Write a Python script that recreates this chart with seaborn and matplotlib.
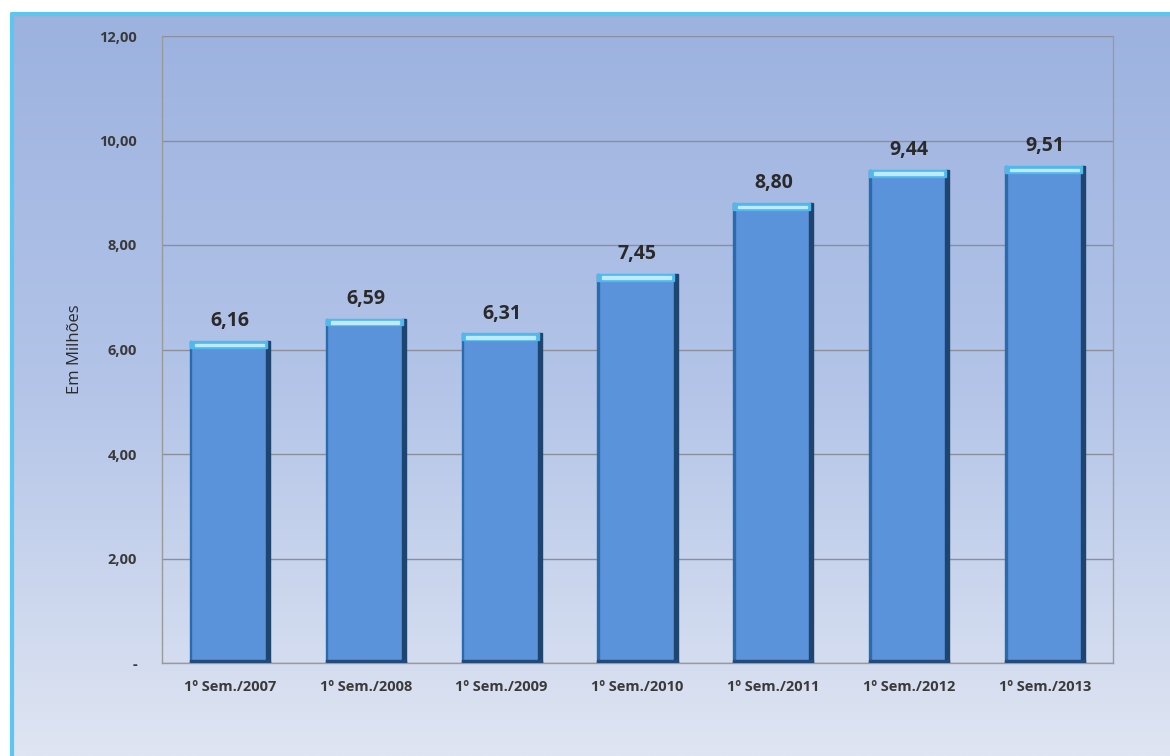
import numpy as np
import pandas as pd
import matplotlib
matplotlib.use('Agg')
import matplotlib.pyplot as plt
from matplotlib.patches import Rectangle
from matplotlib.colors import LinearSegmentedColormap
import seaborn as sns

# dados do gráfico
categorias = ['1º Sem./2007', '1º Sem./2008', '1º Sem./2009', '1º Sem./2010',
              '1º Sem./2011', '1º Sem./2012', '1º Sem./2013']
valores = [6.16, 6.59, 6.31, 7.45, 8.80, 9.44, 9.51]
yticks = [0, 2, 4, 6, 8, 10, 12]
ytick_labels = ['-', '2,00', '4,00', '6,00', '8,00', '10,00', '12,00']

df = pd.DataFrame({'periodo': categorias, 'valor': valores})

sns.set_style('white')
plt.rcParams['font.family'] = ['Open Sans', 'DejaVu Sans']

fig = plt.figure(figsize=(11.7, 7.56), dpi=100)

# fundo com degradê azul
bg = fig.add_axes([12 / 1170, 0, 1 - 12 / 1170, 1 - 14 / 756])
grad = np.linspace(0, 1, 256).reshape(-1, 1)
cmap_bg = LinearSegmentedColormap.from_list('bg', ['#9cb2df', '#b3c4e8', '#dfe5f2'])
bg.imshow(grad, aspect='auto', cmap=cmap_bg, extent=[0, 1, 0, 1], origin='upper')
bg.set_xlim(0, 1)
bg.set_ylim(0, 1)
bg.axis('off')
bg.plot([0, 0], [0, 1], color='#5cc6ef', lw=3, clip_on=False)
bg.plot([0, 1], [1, 1], color='#5cc6ef', lw=3, clip_on=False)

ax = fig.add_axes([162 / 1170, 1 - 663 / 756, (1113 - 162) / 1170, (663 - 36) / 756])
ax.patch.set_alpha(0)

sns.barplot(data=df, x='periodo', y='valor', color='#5b93db', width=0.59,
            saturation=1, edgecolor='none', ax=ax, zorder=3)

# efeito 3D nas barras
for p, v in zip(ax.patches, valores):
    x0, w = p.get_x(), p.get_width()
    ax.add_patch(Rectangle((x0 + w * 0.95, 0), w * 0.05, v, color='#1e4470', zorder=4))
    ax.add_patch(Rectangle((x0, 0), w * 0.02, v, color='#2b6bab', zorder=4))
    ax.add_patch(Rectangle((x0, 0), w, 0.05, color='#234a78', zorder=4))
    ax.add_patch(Rectangle((x0, v - 0.13), w * 0.96, 0.13, color='#4fb8ec', zorder=5))
    ax.add_patch(Rectangle((x0 + w * 0.06, v - 0.1), w * 0.86, 0.05, color='#bfeafc', zorder=6))
    ax.annotate(f'{v:.2f}'.replace('.', ','), (x0 + w / 2, v), xytext=(0, 7),
                textcoords='offset points', ha='center', va='bottom',
                fontsize=14, fontweight='bold', color='#2a2a2a')

ax.set_ylim(0, 12)
ax.set_xlim(-0.5, len(categorias) - 0.5)
ax.set_yticks(yticks)
ax.set_yticklabels(ytick_labels, fontsize=10.5, fontweight='bold', color='#3a3a3a')
ax.yaxis.grid(True, color='#8a8f99', lw=1, zorder=0)
ax.set_axisbelow(True)
ax.tick_params(axis='y', length=0, pad=18)
ax.set_xticks(range(len(categorias)))
ax.set_xticklabels(categorias, fontsize=10.5, fontweight='bold', color='#3a3a3a')
ax.set_xticks(np.arange(-0.5, len(categorias), 1), minor=True)
ax.tick_params(axis='x', which='major', length=0, pad=12)
ax.tick_params(axis='x', which='minor', length=5, color='#9a9a9a', width=1)
ax.set_xlabel('')
ax.set_ylabel('Em Milhões', fontsize=12, color='#2a2a2a', labelpad=12)

for s in ['left', 'bottom', 'right', 'top']:
    ax.spines[s].set_visible(True)
    ax.spines[s].set_color('#9a9a9a')
    ax.spines[s].set_linewidth(1)
ax.spines['top'].set_visible(False)

fig.savefig('out.png', dpi=100)
